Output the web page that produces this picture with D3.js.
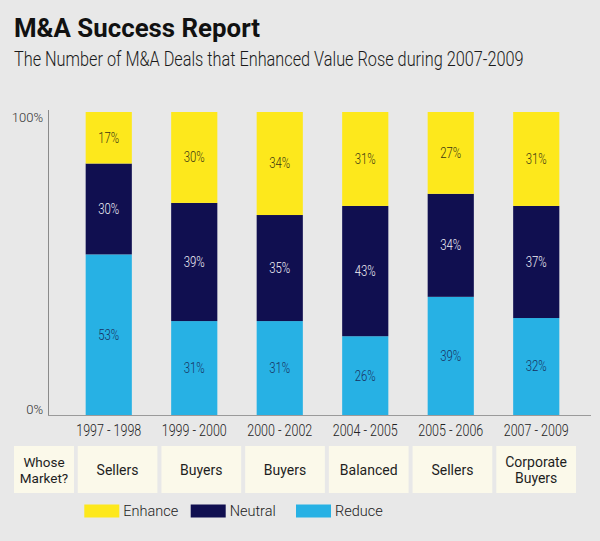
<!DOCTYPE html>
<html><head><meta charset="utf-8">
<script src="https://cdn.jsdelivr.net/npm/d3@7"></script>
<style>
html,body{margin:0;padding:0;background:#e8e8e8;}
svg{display:block;}
text{font-family:Roboto,"Liberation Sans",sans-serif;}
</style></head>
<body>
<svg id="chart" width="600" height="541"></svg>
<script>
const categories = ["1997 - 1998","1999 - 2000","2000 - 2002","2004 - 2005","2005 - 2006","2007 - 2009"];
const reduceVals  = [53,31,31,26,39,32];
const neutralVals = [30,39,35,43,34,37];
const enhanceVals = [17,30,34,31,27,31];
const markets = [["Sellers"],["Buyers"],["Buyers"],["Balanced"],["Sellers"],["Corporate","Buyers"]];
const seriesNames = ["Reduce","Neutral","Enhance"];
const legendOrder = ["Enhance","Neutral","Reduce"];
const yTicks = [0,100];

const colors = {Enhance:"#fde81c", Neutral:"#100f50", Reduce:"#27b1e4"};
const labelColors = {Enhance:"#3a3512", Neutral:"#f2f2f8", Reduce:"#173060"};

const svg = d3.select("#chart");
svg.append("rect").attr("width",600).attr("height",541).attr("fill","#e8e8e8");

// Titles
svg.append("text").attr("x",14).attr("y",37).text("M&A Success Report")
  .attr("font-size",25).attr("font-weight",700).attr("fill","#111")
  .attr("textLength",246).attr("lengthAdjust","spacingAndGlyphs");
const sub = svg.append("text").attr("x",0).attr("y",0)
  .text("The Number of M&A Deals that Enhanced Value Rose during 2007-2009")
  .attr("font-size",19.5).attr("font-weight",300).attr("fill","#1a1a1a");
const subW = sub.node().getComputedTextLength();
sub.attr("transform",`translate(14,66) scale(${510/subW},1)`);

const data = categories.map((c,i)=>({cat:c, Reduce:reduceVals[i], Neutral:neutralVals[i], Enhance:enhanceVals[i]}));
const stack = d3.stack().keys(seriesNames)(data);

const x = d3.scaleBand().domain(categories).range([66,579]).paddingInner(0.46).paddingOuter(0.23);
const y = d3.scaleLinear().domain([0,100]).range([415,112]);

// bars
const g = svg.append("g");
stack.forEach(s=>{
  g.selectAll(null).data(s).join("rect")
    .attr("x",d=>x(d.data.cat)).attr("width",x.bandwidth())
    .attr("y",d=>y(d[1])).attr("height",d=>y(d[0])-y(d[1]))
    .attr("fill",colors[s.key]);
  g.selectAll(null).data(s).join("text")
    .attr("x",d=>x(d.data.cat)+x.bandwidth()/2)
    .attr("y",d=>(y(d[0])+y(d[1]))/2)
    .attr("dy","0.35em").attr("text-anchor","middle")
    .attr("font-size",14).attr("font-weight",300)
    .attr("fill",labelColors[s.key])
    .attr("textLength",21).attr("lengthAdjust","spacingAndGlyphs")
    .text(d=>(d[1]-d[0])+"%");
});

// axes lines
svg.append("line").attr("x1",48.5).attr("x2",48.5).attr("y1",110).attr("y2",415.5).attr("stroke","#8a8a8a").attr("stroke-width",1);
svg.append("line").attr("x1",48).attr("x2",591).attr("y1",415.5).attr("y2",415.5).attr("stroke","#9a9a9a").attr("stroke-width",1);

// y axis
const yAxis = svg.append("g").attr("transform","translate(44,0)")
  .call(d3.axisLeft(y).tickValues(yTicks).tickSize(0).tickFormat(d=>d+"%"));
yAxis.select(".domain").remove();
yAxis.selectAll("text").attr("font-size",13).attr("fill","#333").attr("font-weight",300)
  .attr("font-family","Roboto,sans-serif")
  .attr("x",-1)
  .attr("dy",d=>d===100?"0.7em":"-0.1em");

// x axis
const xAxis = svg.append("g").attr("transform","translate(0,420)")
  .call(d3.axisBottom(x).tickSize(0));
xAxis.select(".domain").remove();
xAxis.selectAll("text").attr("font-size",16).attr("fill","#222").attr("font-weight",300)
  .attr("font-family","Roboto,sans-serif")
  .attr("y",0).attr("dy","1em")
  .attr("textLength",65).attr("lengthAdjust","spacingAndGlyphs");

// table
const cellX = d3.scaleBand().domain(categories).range([75.7,578]).paddingInner(0.048).paddingOuter(0.024);
const cellTop = 446, cellH = 47;
svg.append("rect").attr("x",14).attr("y",cellTop).attr("width",60).attr("height",cellH).attr("fill","#fbf9ea");
const wm = svg.append("text").attr("text-anchor","middle").attr("font-size",13.5).attr("font-weight",400).attr("fill","#1e1e1e");
wm.append("tspan").attr("x",44).attr("y",467).text("Whose");
wm.append("tspan").attr("x",44).attr("y",483).text("Market?");
categories.forEach((c,i)=>{
  svg.append("rect").attr("x",cellX(c)).attr("y",cellTop).attr("width",cellX.bandwidth()).attr("height",cellH).attr("fill","#fbf9ea");
  const lines = markets[i];
  const t = svg.append("text").attr("text-anchor","middle").attr("font-size",14).attr("font-weight",400).attr("fill","#1e1e1e");
  const cx = cellX(c)+cellX.bandwidth()/2;
  if(lines.length===1){
    t.append("tspan").attr("x",cx).attr("y",475).text(lines[0]);
  } else {
    t.append("tspan").attr("x",cx).attr("y",467).text(lines[0]);
    t.append("tspan").attr("x",cx).attr("y",483).text(lines[1]);
  }
});

// legend
const legX = [84.3,190.7,296];
legendOrder.forEach((k,i)=>{
  svg.append("rect").attr("x",legX[i]).attr("y",504.5).attr("width",35).attr("height",13).attr("fill",colors[k]);
  svg.append("text").attr("x",legX[i]+39).attr("y",511).attr("dy","0.35em")
    .attr("font-size",14.5).attr("font-weight",300).attr("fill","#222").text(k);
});
</script>
</body></html>
